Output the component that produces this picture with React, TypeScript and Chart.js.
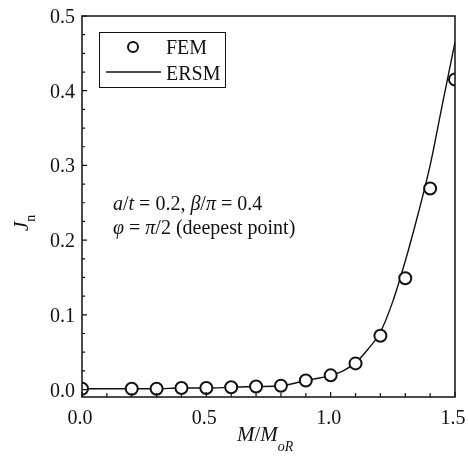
import React, { useEffect, useRef } from "react";
import { Chart, registerables } from "chart.js";

Chart.register(...registerables);

const femX = [0.0, 0.2, 0.3, 0.4, 0.5, 0.6, 0.7, 0.8, 0.9, 1.0, 1.1, 1.2, 1.3, 1.4, 1.5];
const femY = [0.001, 0.001, 0.001, 0.002, 0.002, 0.003, 0.004, 0.005, 0.012, 0.019, 0.035, 0.072, 0.149, 0.269, 0.415];

const ersmX = [0.0, 0.2, 0.3, 0.4, 0.5, 0.6, 0.7, 0.8, 0.9, 1.0, 1.05, 1.1, 1.15, 1.2, 1.25, 1.3, 1.35, 1.4, 1.45, 1.5];
const ersmY = [0.001, 0.001, 0.001, 0.002, 0.002, 0.003, 0.004, 0.005, 0.012, 0.019, 0.025, 0.036, 0.054, 0.077, 0.118, 0.172, 0.233, 0.3, 0.383, 0.465];

const xTicks = [0.0, 0.5, 1.0, 1.5];
const xMinorTicks = [0.1, 0.2, 0.3, 0.4, 0.6, 0.7, 0.8, 0.9, 1.1, 1.2, 1.3, 1.4];
const yTicks = [0.0, 0.1, 0.2, 0.3, 0.4, 0.5];
const yMinorTicks = [0.025, 0.05, 0.075, 0.125, 0.15, 0.175, 0.225, 0.25, 0.275, 0.325, 0.35, 0.375, 0.425, 0.45, 0.475];

const legendLabels = ["FEM", "ERSM"];

const SERIF = "'Liberation Serif', 'DejaVu Serif', serif";
const INK = "#111";

type Seg = { t: string; it?: boolean; size?: number; dy?: number };

function drawSegs(ctx: CanvasRenderingContext2D, segs: Seg[], x: number, y: number, base: number) {
  let cx = x;
  for (const s of segs) {
    const size = s.size ?? base;
    ctx.font = `${s.it ? "italic " : ""}${size}px ${SERIF}`;
    ctx.fillText(s.t, cx, y + (s.dy ?? 0));
    cx += ctx.measureText(s.t).width;
  }
}

const decorPlugin = {
  id: "decor",
  afterDraw(chart: any) {
    const ctx: CanvasRenderingContext2D = chart.ctx;
    const { left, right, top, bottom } = chart.chartArea;
    const xs = chart.scales.x;
    const ys = chart.scales.y;
    ctx.save();
    ctx.strokeStyle = INK;
    ctx.fillStyle = INK;
    // frame
    ctx.lineWidth = 1.5;
    ctx.strokeRect(left, top, right - left, bottom - top);
    // ticks (inward)
    ctx.lineWidth = 1.2;
    ctx.beginPath();
    for (const v of yTicks) {
      const p = ys.getPixelForValue(v);
      ctx.moveTo(left, p);
      ctx.lineTo(left + 5, p);
    }
    for (const v of yMinorTicks) {
      const p = ys.getPixelForValue(v);
      ctx.moveTo(left, p);
      ctx.lineTo(left + 3, p);
    }
    for (const v of xTicks) {
      const p = xs.getPixelForValue(v);
      ctx.moveTo(p, bottom);
      ctx.lineTo(p, bottom - 5);
    }
    for (const v of xMinorTicks) {
      const p = xs.getPixelForValue(v);
      ctx.moveTo(p, bottom);
      ctx.lineTo(p, bottom - 4);
    }
    ctx.stroke();

    // tick labels
    ctx.font = `20px ${SERIF}`;
    ctx.textBaseline = "alphabetic";
    ctx.textAlign = "right";
    for (const v of yTicks) {
      const p = ys.getPixelForValue(v);
      ctx.fillText(v.toFixed(1), left - 7, p + 7);
    }
    ctx.textAlign = "center";
    for (const v of xTicks) {
      const p = xs.getPixelForValue(v);
      ctx.fillText(v.toFixed(1), p - 2, bottom + 27);
    }
    ctx.textAlign = "left";

    // legend box
    ctx.lineWidth = 1;
    ctx.strokeRect(99.5, 32.5, 126, 55);
    ctx.lineWidth = 2;
    ctx.fillStyle = "#fff";
    ctx.beginPath();
    ctx.arc(133, 47, 5, 0, Math.PI * 2);
    ctx.fill();
    ctx.stroke();
    ctx.lineWidth = 1.3;
    ctx.beginPath();
    ctx.moveTo(106, 72);
    ctx.lineTo(161, 72);
    ctx.stroke();
    ctx.fillStyle = INK;
    ctx.font = `20px ${SERIF}`;
    ctx.fillText(legendLabels[0], 166, 54);
    ctx.fillText(legendLabels[1], 166, 80);

    // annotation
    drawSegs(ctx, [
      { t: "a", it: true }, { t: "/" }, { t: "t", it: true }, { t: " = 0.2, " },
      { t: "β", it: true }, { t: "/" }, { t: "π", it: true }, { t: " = 0.4" },
    ], 113, 210, 20);
    drawSegs(ctx, [
      { t: "φ", it: true }, { t: " = " }, { t: "π", it: true }, { t: "/2 (deepest point)" },
    ], 113, 234, 20);

    // x title
    drawSegs(ctx, [
      { t: "M", it: true }, { t: "/" }, { t: "M", it: true },
      { t: "oR", it: true, size: 14, dy: 10 },
    ], 237, 441, 21);

    // y title rotated
    ctx.save();
    ctx.translate(28, 231);
    ctx.rotate(-Math.PI / 2);
    drawSegs(ctx, [{ t: "J", it: true }, { t: "n", size: 14, dy: 7 }], 0, 0, 21);
    ctx.restore();

    ctx.restore();
  },
};

export default function App() {
  const ref = useRef<HTMLCanvasElement | null>(null);
  useEffect(() => {
    if (!ref.current) return;
    const chart = new Chart(ref.current, {
      type: "scatter",
      data: {
        datasets: [
          {
            label: legendLabels[0],
            data: femX.map((x, i) => ({ x, y: femY[i] })),
            showLine: false,
            pointRadius: 6,
            pointBorderWidth: 2,
            pointBorderColor: INK,
            pointBackgroundColor: "#fff",
            order: 0,
          },
          {
            label: legendLabels[1],
            data: ersmX.map((x, i) => ({ x, y: ersmY[i] })),
            showLine: true,
            pointRadius: 0,
            borderColor: INK,
            borderWidth: 1.4,
            cubicInterpolationMode: "monotone",
            order: 1,
          },
        ],
      },
      options: {
        responsive: false,
        animation: false,
        events: [],
        layout: { padding: { top: 16, right: 13, left: 0, bottom: 0 } },
        plugins: { legend: { display: false }, tooltip: { enabled: false } },
        scales: {
          x: {
            type: "linear",
            min: 0,
            max: 1.5,
            afterBuildTicks: (s: any) => { s.ticks = xTicks.map((v) => ({ value: v })); },
            afterFit: (s: any) => { s.height = 69; },
            grid: { display: false, drawTicks: false },
            border: { display: false },
            ticks: { display: false },
          },
          y: {
            type: "linear",
            min: -0.01,
            max: 0.5,
            afterBuildTicks: (s: any) => { s.ticks = yTicks.map((v) => ({ value: v })); },
            afterFit: (s: any) => { s.width = 82; },
            grid: { display: false, drawTicks: false },
            border: { display: false },
            ticks: { display: false },
          },
        },
      },
      plugins: [decorPlugin],
    } as any);
    return () => chart.destroy();
  }, []);
  return (
    <div style={{ position: "absolute", left: 0, top: 0, width: 468, height: 466, background: "#fff" }}>
      <canvas ref={ref} width={468} height={466} style={{ display: "block" }} />
    </div>
  );
}
